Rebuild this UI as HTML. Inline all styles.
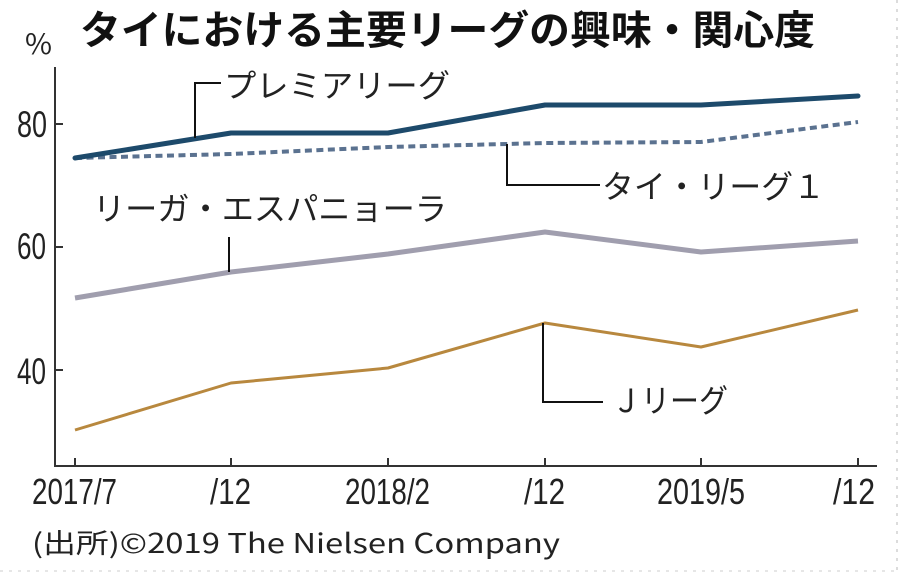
<!DOCTYPE html>
<html><head><meta charset="utf-8"><style>
html,body{margin:0;padding:0;background:#fff;}
svg{display:block;}
</style></head><body>
<svg width="900" height="574" viewBox="0 0 900 574" xmlns="http://www.w3.org/2000/svg">
<rect width="900" height="574" fill="#fff"/>
<line x1="897" y1="0" x2="897" y2="574" stroke="#dcdcdc" stroke-width="2" stroke-dasharray="3,6"/>
<line x1="0" y1="571" x2="897" y2="571" stroke="#e6e6e6" stroke-width="2" stroke-dasharray="3,6"/>

<!-- Title -->
<text x="80" y="44" font-family="'Liberation Sans','Noto Sans CJK JP',sans-serif" font-weight="bold" font-size="40" fill="#111" textLength="735" lengthAdjust="spacingAndGlyphs">タイにおける主要リーグの興味・関心度</text>
<text x="25" y="54" font-family="'Noto Sans CJK JP',sans-serif" font-size="28" fill="#222" textLength="27" lengthAdjust="spacingAndGlyphs">%</text>

<!-- Axes -->
<g stroke="#333" stroke-width="2" fill="none">
<line x1="55" y1="67" x2="55" y2="467"/>
<line x1="54" y1="466" x2="877" y2="466"/>
<line x1="55" y1="124" x2="63" y2="124"/>
<line x1="55" y1="247" x2="63" y2="247"/>
<line x1="55" y1="370" x2="63" y2="370"/>
<line x1="75" y1="458" x2="75" y2="466"/>
<line x1="231" y1="458" x2="231" y2="466"/>
<line x1="388" y1="458" x2="388" y2="466"/>
<line x1="545" y1="458" x2="545" y2="466"/>
<line x1="701" y1="458" x2="701" y2="466"/>
<line x1="858" y1="458" x2="858" y2="466"/>
</g>

<!-- Y labels -->
<g font-family="'Liberation Sans',sans-serif" font-size="37" fill="#222">
<text x="17" y="137" textLength="30" lengthAdjust="spacingAndGlyphs">80</text>
<text x="17" y="259" textLength="29" lengthAdjust="spacingAndGlyphs">60</text>
<text x="17" y="384" textLength="29" lengthAdjust="spacingAndGlyphs">40</text>
</g>

<!-- X labels -->
<g font-family="'Liberation Sans',sans-serif" font-size="36" fill="#222">
<text x="32" y="504" textLength="85" lengthAdjust="spacingAndGlyphs">2017/7</text>
<text x="210" y="504" textLength="41" lengthAdjust="spacingAndGlyphs">/12</text>
<text x="345" y="504" textLength="85" lengthAdjust="spacingAndGlyphs">2018/2</text>
<text x="524" y="504" textLength="41" lengthAdjust="spacingAndGlyphs">/12</text>
<text x="657" y="504" textLength="88" lengthAdjust="spacingAndGlyphs">2019/5</text>
<text x="833" y="504" textLength="42" lengthAdjust="spacingAndGlyphs">/12</text>
</g>

<!-- Source -->
<text x="32" y="553" font-family="'Noto Sans CJK JP',sans-serif" font-size="27" fill="#222" textLength="528" lengthAdjust="spacingAndGlyphs">(出所)©2019 The Nielsen Company</text>

<!-- Series -->
<polyline points="75,430 231,383 388,368 545,323 701,347 858,310" fill="none" stroke="#b8883e" stroke-width="3" stroke-linejoin="round"/>
<polyline points="75,298 231,272 388,254 545,232 701,252 858,241" fill="none" stroke="#a09eae" stroke-width="5" stroke-linejoin="round"/>
<polyline points="75,158 231,154 388,147 545,143 701,142 858,122" fill="none" stroke="#5b7290" stroke-width="4" stroke-dasharray="7,4.5"/>
<polyline points="75,158 231,133 388,133 545,105 701,105 858,96" fill="none" stroke="#1d4a6b" stroke-width="5" stroke-linejoin="round" stroke-linecap="round"/>

<!-- Leader lines -->
<g stroke="#111" stroke-width="2" fill="none">
<polyline points="195,138 195,83 221,83"/>
<polyline points="507,144 507,185 600,185"/>
<line x1="229" y1="237" x2="229" y2="272"/>
<polyline points="543,323 543,402 603,402"/>
</g>

<!-- Series labels -->
<g font-family="'Liberation Sans','Noto Sans CJK JP',sans-serif" font-size="32" fill="#222">
<text x="224" y="97" textLength="226" lengthAdjust="spacingAndGlyphs">プレミアリーグ</text>
<text x="602" y="198" textLength="223" lengthAdjust="spacingAndGlyphs">タイ・リーグ１</text>
<text x="93" y="220" textLength="354" lengthAdjust="spacingAndGlyphs">リーガ・エスパニョーラ</text>
<text x="612" y="412" textLength="116" lengthAdjust="spacingAndGlyphs">Ｊリーグ</text>
</g>
</svg>
</body></html>
